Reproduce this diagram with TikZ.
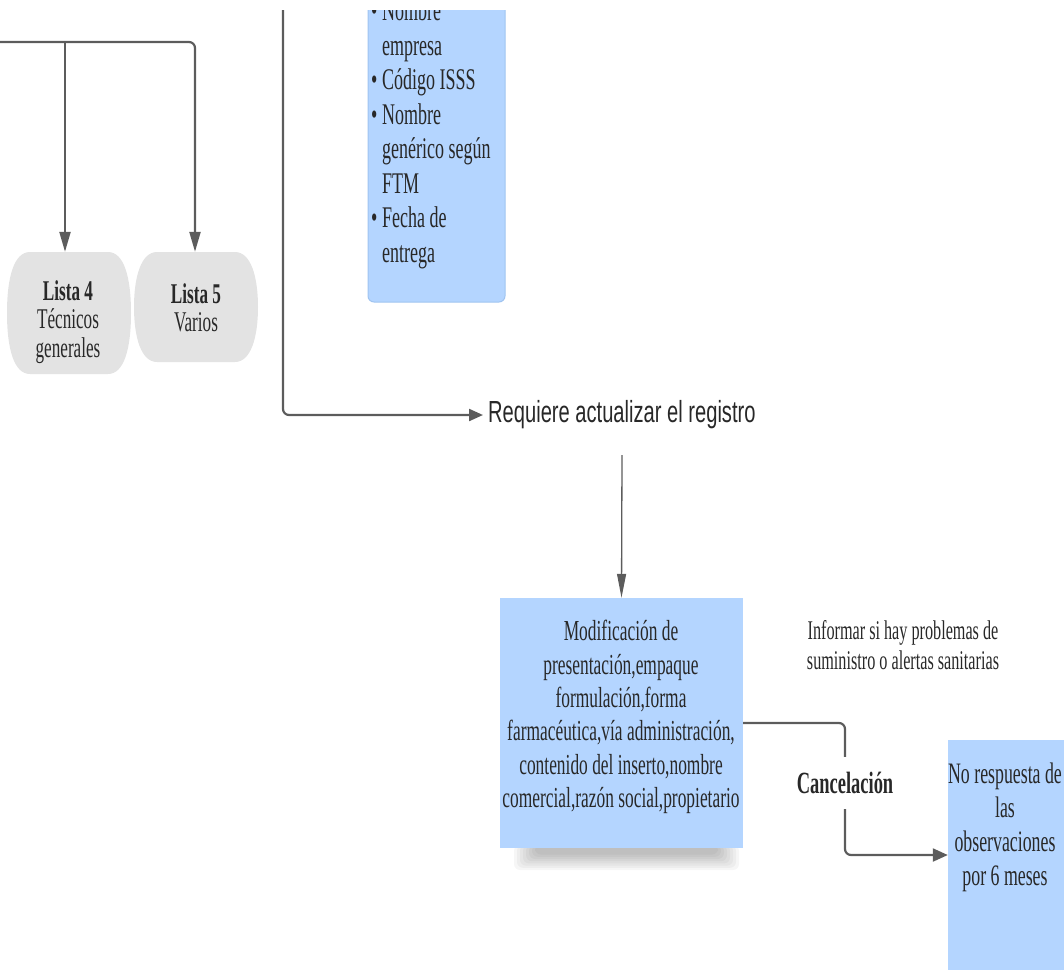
\documentclass[tikz,border=0pt]{standalone}
\usepackage{fontspec}
\setmainfont{Liberation Serif}[FakeStretch=0.6]
\newfontfamily\labelsans{Liberation Sans}[FakeStretch=0.66]
\usetikzlibrary{arrows.meta,calc}
\definecolor{boxblue}{RGB}{180,213,255}
\definecolor{boxedge}{RGB}{160,196,240}
\definecolor{listgray}{RGB}{227,227,227}
\definecolor{linegray}{RGB}{92,92,92}
\definecolor{textdark}{RGB}{40,40,40}
% barrel-shaped list card: left, right, top, bottom
\newcommand\barrelcard[4]{%
  \fill[listgray] (#1+20,#3) -- (#2-20,#3)
    .. controls (#2-4,#3) and (#2+3,#3+25) .. (#2+3,{(#3+#4)/2})
    .. controls (#2+3,#4-25) and (#2-4,#4) .. (#2-20,#4)
    -- (#1+20,#4)
    .. controls (#1+4,#4) and (#1-3,#4-25) .. (#1-3,{(#3+#4)/2})
    .. controls (#1-3,#3+25) and (#1+4,#3) .. (#1+20,#3) -- cycle;}
\begin{document}
\begin{tikzpicture}[x=1pt,y=-1pt,
  conn/.style={draw=linegray, line width=2.2pt, rounded corners=6pt,
    -{Triangle[length=20pt,width=11pt]}},
  thinconn/.style={draw=linegray, line width=1.3pt,
    -{Triangle[length=24pt,width=9pt]}},
  serif/.style={font=\fontsize{29}{33.4}\selectfont, text=textdark},
  bodytext/.style={serif, align=center, inner sep=0pt},
  itemline/.style={font=\fontsize{30}{33}\selectfont, text=textdark,
    anchor=base west, inner sep=0pt},
  ghost/.style={inner sep=0pt, draw=none}]
\useasboundingbox (0,0) rectangle (1064,970);

% ---- list cards on the left ----
\barrelcard{10}{128}{252}{374}
\barrelcard{137}{255}{252}{362}
\node[ghost, minimum width=118pt, minimum height=122pt] (l4) at (65,313) {};
\node[ghost, minimum width=118pt, minimum height=110pt] (l5) at (195,307) {};
\node[bodytext, font=\fontsize{28.6}{28.5}\selectfont] (l4t) at (68,322)
  {\textbf{Lista 4}\\Técnicos\\generales};
\node[bodytext, font=\fontsize{28.6}{28.5}\selectfont] (l5t) at (196,308)
  {\textbf{Lista 5}\\Varios};

\coordinate (lin) at (0,42);
\coordinate (br4) at (l4.north |- lin);
\draw[conn] (lin) -| (l5.north);
\draw[conn] (br4) -- (l4.north);

% ---- item card at the top ----
\begin{scope}
  \clip (0,10) rectangle (1064,970);
  \draw[fill=boxblue, draw=boxedge, line width=1pt, rounded corners=6pt]
    (368,-30) rectangle (505,302);
  \node[ghost, minimum width=137pt, minimum height=292pt] (items) at (436.5,156) {};
  \foreach \y/\b/\t [count=\k] in {
      20.5/1/Nombre, 55/0/empresa, 89.5/1/Código ISSS, 124/1/Nombre,
      158.5/0/genérico según, 193/0/FTM, 227.5/1/Fecha de, 262/0/entrega} {
    \ifnum\b=1
      \node[itemline] (bul\k) at (371,\y) {\textbullet};
    \fi
    \node[itemline] (item\k) at (382,\y) {\t};
  }
  \coordinate (vtop) at (283,10);
\end{scope}

% ---- update branch ----
\node[anchor=west, inner sep=5pt, font=\labelsans\fontsize{30.5}{34}\selectfont,
  text=textdark] (req) at (483,415) {Requiere actualizar el registro};
\draw[conn, -{Triangle[length=14pt,width=12pt]}] (vtop) |- (req.west);

\coordinate (t1) at (622,455);

% ---- modification card with its shadow ----
\foreach \k in {0,...,7}
  \fill[black, opacity=0.035, rounded corners=6pt]
    (514+3*\k,845) rectangle (739-3*\k,870-2.2*\k);
\node[fill=boxblue, minimum width=243pt, minimum height=250pt, inner sep=0pt]
  (mod) at (621.5,723) {};
\node[bodytext] (modt) at (621,717)
  {Modificación de\\presentación,empaque\\formulación,forma\\
   farmacéutica,vía administración,\\contenido del inserto,nombre\\
   comercial,razón social,propietario};
\draw[thinconn] (t1) -- (mod.north);

% ---- notes and cancellation branch ----
\node[bodytext, font=\fontsize{27}{30.5}\selectfont] (info) at (903,645)
  {Informar si hay problemas de\\suministro o alertas sanitarias};

\node[fill=boxblue, minimum width=116pt, minimum height=230pt, inner sep=0pt]
  (nr) at (1006,855) {};
\node[bodytext, font=\fontsize{29.7}{34}\selectfont] (nrt) at (1005,827)
  {No respuesta de\\las\\observaciones\\por 6 meses};

\node[serif, font=\bfseries\fontsize{30.8}{32}\selectfont, inner sep=0pt,
  minimum height=52pt] (canc) at (845,783) {Cancelación};
\draw[conn, -] (mod.east) -| (canc.north);
\draw[conn, -{Triangle[length=15pt,width=13pt]}] (canc.south) |- (nr.west);
\end{tikzpicture}
\end{document}
